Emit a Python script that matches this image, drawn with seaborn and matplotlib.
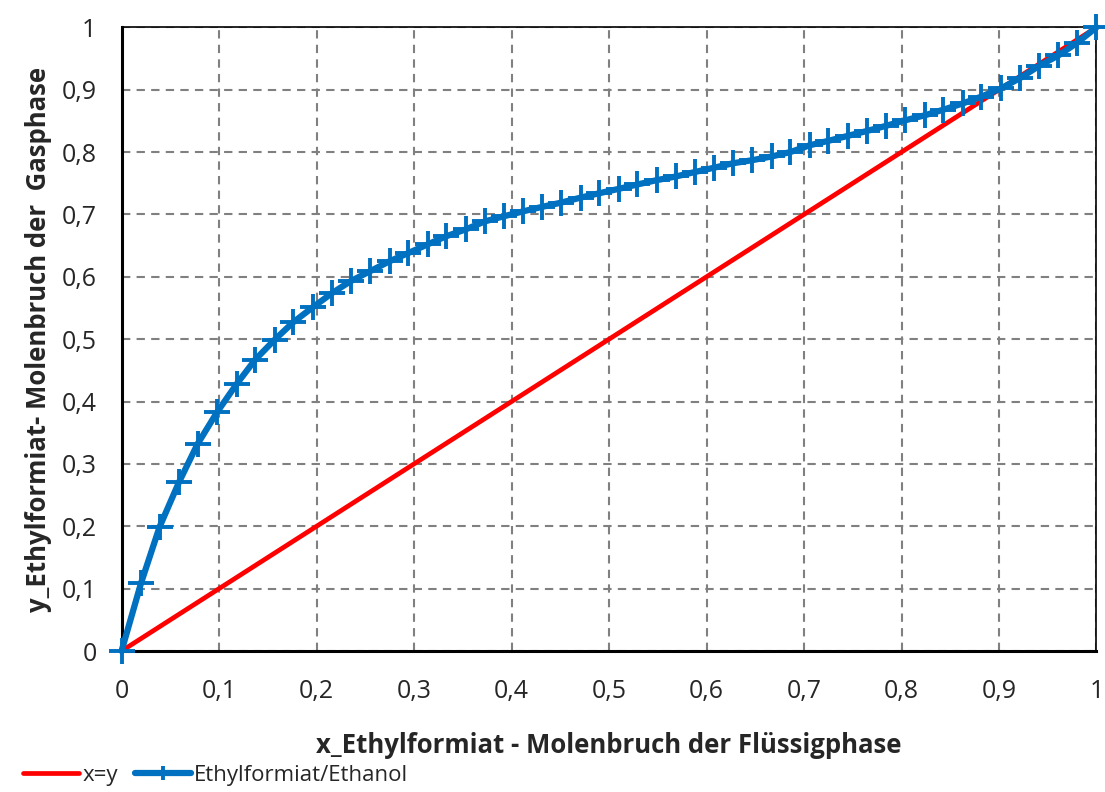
import matplotlib
matplotlib.use("Agg")
import matplotlib.pyplot as plt
import matplotlib.ticker as mticker
import seaborn as sns
import pandas as pd

# Data
x_liquid = [0.000, 0.020, 0.039, 0.059, 0.078, 0.098, 0.118, 0.137, 0.157, 0.176,
            0.196, 0.216, 0.235, 0.255, 0.275, 0.294, 0.314, 0.333, 0.353, 0.373,
            0.392, 0.412, 0.431, 0.451, 0.471, 0.490, 0.510, 0.529, 0.549, 0.569,
            0.588, 0.608, 0.627, 0.647, 0.667, 0.686, 0.706, 0.725, 0.745, 0.765,
            0.784, 0.804, 0.824, 0.843, 0.863, 0.882, 0.902, 0.922, 0.941, 0.961,
            0.980, 1.000]
y_vapour = [0.000, 0.109, 0.199, 0.271, 0.332, 0.383, 0.428, 0.467, 0.499, 0.527,
            0.551, 0.574, 0.593, 0.609, 0.625, 0.638, 0.652, 0.665, 0.676, 0.689,
            0.697, 0.705, 0.712, 0.719, 0.727, 0.734, 0.741, 0.748, 0.755, 0.761,
            0.768, 0.775, 0.782, 0.787, 0.793, 0.800, 0.811, 0.818, 0.826, 0.834,
            0.842, 0.851, 0.859, 0.868, 0.878, 0.889, 0.902, 0.919, 0.938, 0.955,
            0.975, 1.000]
diag_x = [0.0, 1.0]
diag_y = [0.0, 1.0]

series_blue = "Ethylformiat/Ethanol"
series_red = "x=y"
xlabel = "x_Ethylformiat - Molenbruch der Flüssigphase"
ylabel = "y_Ethylformiat- Molenbruch der  Gasphase"

sns.set_style("white")
plt.rcParams["font.family"] = ["Open Sans", "DejaVu Sans"]

fig = plt.figure(figsize=(11.05, 7.92), dpi=100)
ax = fig.add_axes([0.110, 0.178, 0.8823, 0.7875])

df_curve = pd.DataFrame({"x": x_liquid, "y": y_vapour})
df_diag = pd.DataFrame({"x": diag_x, "y": diag_y})

sns.lineplot(data=df_diag, x="x", y="y", ax=ax, color="#FF0000", lw=3.4,
             label=series_red, zorder=3)
sns.lineplot(data=df_curve, x="x", y="y", ax=ax, color="#0070C0", lw=4.5,
             marker="+", markersize=19, markeredgewidth=2.8,
             markeredgecolor="#0070C0", label=series_blue, zorder=4,
             clip_on=False)

ax.set_xlim(0, 1)
ax.set_ylim(0, 1)
ax.xaxis.set_major_locator(mticker.MultipleLocator(0.1))
ax.yaxis.set_major_locator(mticker.MultipleLocator(0.1))
ax.xaxis.set_minor_locator(mticker.MultipleLocator(0.02))
ax.yaxis.set_minor_locator(mticker.MultipleLocator(0.02))

def fmt(v, pos):
    s = f"{v:.1f}"
    if s.endswith(".0"):
        s = s[:-2]
    return s.replace(".", ",")

ax.xaxis.set_major_formatter(mticker.FuncFormatter(fmt))
ax.yaxis.set_major_formatter(mticker.FuncFormatter(fmt))

ax.grid(True, which="major", linestyle=(0, (4, 3)), color="#808080", lw=1.5)
ax.set_axisbelow(True)

for side in ["top", "right"]:
    ax.spines[side].set_color("black")
    ax.spines[side].set_linewidth(1.2)
for side in ["left", "bottom"]:
    ax.spines[side].set_color("black")
    ax.spines[side].set_linewidth(2.2)

ax.tick_params(axis="both", which="both", direction="in", length=6,
               width=1.6, color="black", labelsize=18)
ax.tick_params(axis="y", which="major", pad=18)
ax.tick_params(axis="x", which="major", pad=20)

ax.set_xlabel(xlabel, fontsize=18.5, fontweight="bold", labelpad=20)
ax.set_ylabel(ylabel, fontsize=18.5, fontweight="bold", labelpad=7)

handles, labels = ax.get_legend_handles_labels()
ax.get_legend().remove()
fig.legend(handles, labels, loc="lower left", bbox_to_anchor=(0.003, -0.018),
           ncol=2, frameon=False, fontsize=16, handlelength=2.5,
           handletextpad=0.15, columnspacing=0.8, markerscale=0.5)

fig.savefig("out.png", dpi=100)
